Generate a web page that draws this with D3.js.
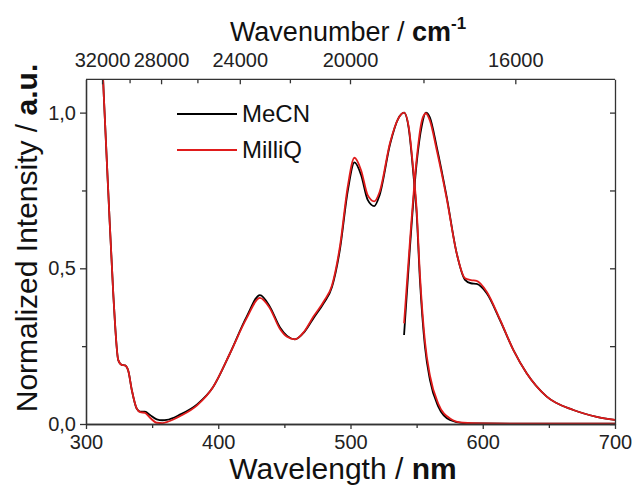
<!DOCTYPE html>
<html>
<head>
<meta charset="utf-8">
<script src="https://cdn.jsdelivr.net/npm/d3@7"></script>
<style>
  body { margin: 0; background: #fff; }
  text { font-family: Arial, "Liberation Sans", sans-serif; }
</style>
</head>
<body>
<div id="chart"></div>
<script>
// absorption spectra (wavelength nm / normalized intensity)
const absLambda = [312.0, 313.5, 316.9, 320.6, 324.4, 327, 329.5, 332, 334.6, 338.3, 341, 344.6, 348.4, 353.5, 358, 361, 371, 384, 396, 409, 421.5, 431.5, 439, 446.7, 452, 458, 465, 472, 480, 486, 492, 498, 503, 508, 513, 518, 522, 530, 536, 540.5, 544, 547.5, 550, 552.5, 556.3, 560.1, 566.4, 575.2, 585.3, 600, 650, 700]
const absMeCN   = [1.2, 1.05, 0.74, 0.42, 0.205, 0.19, 0.188, 0.17, 0.11, 0.05, 0.04, 0.04, 0.029, 0.015, 0.012, 0.013, 0.03, 0.063, 0.118, 0.228, 0.345, 0.414, 0.377, 0.31, 0.283, 0.272, 0.295, 0.34, 0.39, 0.44, 0.56, 0.75, 0.84, 0.80, 0.72, 0.70, 0.735, 0.90, 0.98, 1.0, 0.95, 0.805, 0.677, 0.463, 0.248, 0.141, 0.056, 0.013, 0.003, 0.002, 0.001, 0.001]
const absMilliQ = [1.2, 1.05, 0.74, 0.42, 0.205, 0.19, 0.188, 0.17, 0.11, 0.05, 0.038, 0.036, 0.02, 0.004, 0.003, 0.006, 0.025, 0.06, 0.118, 0.228, 0.34, 0.405, 0.372, 0.305, 0.28, 0.272, 0.297, 0.345, 0.395, 0.445, 0.57, 0.765, 0.855, 0.815, 0.735, 0.715, 0.745, 0.905, 0.98, 1.0, 0.955, 0.815, 0.69, 0.48, 0.265, 0.155, 0.065, 0.018, 0.004, 0.002, 0.001, 0.001]

// emission spectra
const emLambda  = [540.5, 545, 550, 554, 557, 560, 565.2, 572.7, 580.3, 586.6, 591, 595.4, 603, 613, 623.1, 633.2, 648.4, 668.5, 686.2, 700]
const emMeCN    = [0.286, 0.57, 0.837, 0.96, 1.0, 0.985, 0.89, 0.73, 0.548, 0.463, 0.452, 0.45, 0.42, 0.334, 0.238, 0.163, 0.088, 0.045, 0.023, 0.013]
const emMilliQ  = [0.323, 0.59, 0.85, 0.975, 0.998, 0.975, 0.88, 0.725, 0.548, 0.468, 0.462, 0.46, 0.425, 0.336, 0.238, 0.163, 0.088, 0.045, 0.023, 0.013]

const xTicks = [300, 400, 500, 600, 700]
const xMinor = [350, 450, 550, 650]
const yTicks = [0, 0.5, 1.0]
const yMinor = [0.25, 0.75]
const wnTicks = [32000, 28000, 24000, 20000, 16000]
const wnMinor = [30000, 26000, 22000, 18000]

const series = [
  {name: "MeCN", color: "#000000", abs: absMeCN, em: emMeCN},
  {name: "MilliQ", color: "#e01b1b", abs: absMilliQ, em: emMilliQ}
]

const width = 633, height = 488
const mLeft = 86, mRight = 615, mTop = 79.3, mBottom = 424

const x = d3.scaleLinear().domain([300, 700]).range([mLeft, mRight])
const y = d3.scaleLinear().domain([0, 1.107]).range([mBottom, mTop])
const comma = d => d3.format(".1f")(d).replace(".", ",")

const svg = d3.select("#chart").append("svg")
  .attr("width", width).attr("height", height)

svg.append("defs").append("clipPath").attr("id", "plot")
  .append("rect").attr("x", mLeft).attr("y", mTop)
  .attr("width", mRight - mLeft).attr("height", mBottom - mTop)

const line = d3.line().x(d => x(d[0])).y(d => y(d[1])).curve(d3.curveMonotoneX)
const plot = svg.append("g").attr("clip-path", "url(#plot)")
series.forEach(s => {
  plot.append("path").datum(d3.zip(absLambda, s.abs))
    .attr("d", line).attr("fill", "none").attr("stroke", s.color).attr("stroke-width", 1.8)
  plot.append("path").datum(d3.zip(emLambda, s.em))
    .attr("d", line).attr("fill", "none").attr("stroke", s.color).attr("stroke-width", 1.8)
})

// axes
const axisColor = "#333"
const styleAxis = g => {
  g.select(".domain").attr("stroke", axisColor).attr("stroke-width", 1.3)
  g.selectAll(".tick line").attr("stroke", axisColor).attr("stroke-width", 1.3)
  g.selectAll(".tick text").attr("font-size", 20).attr("fill", "#222")
    .style("font-family", "Arial, 'Liberation Sans', sans-serif")
}

svg.append("g").attr("transform", `translate(0,${mBottom})`)
  .call(d3.axisBottom(x).tickValues(xTicks).tickSize(5).tickPadding(6).tickSizeOuter(0))
  .call(styleAxis)
svg.append("g").attr("transform", `translate(0,${mBottom})`)
  .call(d3.axisBottom(x).tickValues(xMinor).tickSize(4).tickFormat("").tickSizeOuter(0))
  .call(styleAxis)

svg.append("g").attr("transform", `translate(${mLeft},0)`)
  .call(d3.axisLeft(y).tickValues(yTicks).tickFormat(comma).tickSize(6).tickPadding(4).tickSizeOuter(0))
  .call(styleAxis)
svg.append("g").attr("transform", `translate(${mLeft},0)`)
  .call(d3.axisLeft(y).tickValues(yMinor).tickFormat("").tickSize(4).tickSizeOuter(0))
  .call(styleAxis)

svg.append("g").attr("transform", `translate(${mRight},0)`)
  .call(d3.axisRight(y).tickValues(yTicks.concat(yMinor)).tickFormat("").tickSize(-5).tickSizeOuter(0))
  .call(styleAxis)

// top axis: wavenumber (cm-1) placed through the wavelength scale
const topAxis = svg.append("g")
topAxis.append("line").attr("x1", mLeft).attr("x2", mRight).attr("y1", mTop).attr("y2", mTop)
  .attr("stroke", axisColor).attr("stroke-width", 1.3)
topAxis.selectAll("line.wn").data(wnTicks.concat(wnMinor)).join("line")
  .attr("class", "wn")
  .attr("x1", w => x(1e7 / w)).attr("x2", w => x(1e7 / w))
  .attr("y1", mTop).attr("y2", (w, i) => mTop + (i < wnTicks.length ? 5 : 4))
  .attr("stroke", axisColor).attr("stroke-width", 1.3)
topAxis.selectAll("text").data(wnTicks).join("text")
  .attr("x", w => x(1e7 / w)).attr("y", 67)
  .attr("text-anchor", "middle").attr("font-size", 20).attr("fill", "#222")
  .text(w => w)

// titles
const xt = svg.append("text").attr("x", 343).attr("y", 479).attr("text-anchor", "middle")
  .attr("font-size", 30).attr("fill", "#111")
xt.append("tspan").text("Wavelength / ")
xt.append("tspan").attr("font-weight", "bold").text("nm")

const tt = svg.append("text").attr("x", 348).attr("y", 41).attr("text-anchor", "middle")
  .attr("font-size", 27).attr("fill", "#111")
tt.append("tspan").text("Wavenumber / ")
tt.append("tspan").attr("font-weight", "bold").text("cm")
tt.append("tspan").attr("font-weight", "bold").attr("font-size", 17).attr("dy", -12).text("-1")

const yt = svg.append("text").attr("transform", "translate(37,238) rotate(-90)")
  .attr("text-anchor", "middle").attr("font-size", 30).attr("fill", "#111")
yt.append("tspan").text("Normalized Intensity / ")
yt.append("tspan").attr("font-weight", "bold").text("a.u.")

// legend
const legend = svg.append("g")
series.forEach((s, i) => {
  const ly = 114 + i * 36
  legend.append("line").attr("x1", 177).attr("x2", 237).attr("y1", ly).attr("y2", ly)
    .attr("stroke", s.color).attr("stroke-width", 1.8)
  legend.append("text").attr("x", 242).attr("y", ly + 8).attr("font-size", 24).attr("fill", "#111")
    .text(s.name)
})
</script>
</body>
</html>
